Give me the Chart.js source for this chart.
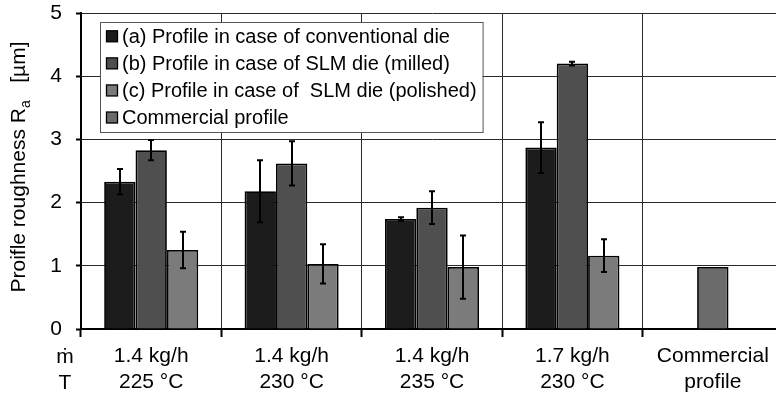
<!DOCTYPE html>
<html>
<head>
<meta charset="utf-8">
<script src="https://cdn.jsdelivr.net/npm/chart.js@4/dist/chart.umd.min.js"></script>
<style>
html,body{margin:0;padding:0;background:#fff;overflow:hidden;width:776px;height:396px;}
#wrap{width:783px;height:396px;}
</style>
</head>
<body>
<div id="wrap"><canvas id="c" width="783" height="396"></canvas></div>
<script>
// ---- data ----
const categories = [['1.4 kg/h', '225 °C'], ['1.4 kg/h', '230 °C'], ['1.4 kg/h', '235 °C'], ['1.7 kg/h', '230 °C'], ['Commercial', 'profile']];
const rowLabels = ['ṁ', 'T'];
const seriesNames = ['(a) Profile in case of conventional die', '(b) Profile in case of SLM die (milled)', '(c) Profile in case of  SLM die (polished)', 'Commercial profile'];
const conventional = [2.33, 2.18, 1.74, 2.87, null];
const conventionalErr = [0.20, 0.49, 0.03, 0.40, null];
const slmMilled = [2.83, 2.62, 1.92, 4.20, null];
const slmMilledErr = [0.16, 0.35, 0.26, 0.03, null];
const slmPolished = [1.25, 1.03, 0.98, 1.16, null];
const slmPolishedErr = [0.29, 0.31, 0.50, 0.26, null];
const commercial = [null, null, null, null, 0.98];
const commercialErr = [null, null, null, null, 0];
const yTicks = [0, 1, 2, 3, 4, 5];
const yTitleMain = 'Proifle roughness R';
const yTitleSub = 'a';
const yTitleUnit = '   [µm]';

const colors = ['#1c1c1c', '#4f4f4f', '#7b7b7b', '#6b6b6b'];
const FONT = "'Liberation Sans', Arial, 'DejaVu Sans', sans-serif";

const errs = [conventionalErr, slmMilledErr, slmPolishedErr, commercialErr];

const errorBars = {
  id: 'errorBars',
  afterDatasetsDraw(chart) {
    const ctx = chart.ctx, y = chart.scales.y;
    ctx.save();
    ctx.strokeStyle = '#000';
    ctx.lineWidth = 2;
    chart.data.datasets.forEach((ds, di) => {
      const meta = chart.getDatasetMeta(di);
      meta.data.forEach((bar, i) => {
        const v = ds.data[i], e = errs[di][i];
        if (v == null || e == null || e === 0) return;
        const x = Math.round(bar.x);
        const yt = y.getPixelForValue(v + e), yb = y.getPixelForValue(v - e);
        ctx.beginPath();
        ctx.moveTo(x, yt); ctx.lineTo(x, yb);
        ctx.moveTo(x - 3, yt); ctx.lineTo(x + 3, yt);
        ctx.moveTo(x - 3, yb); ctx.lineTo(x + 3, yb);
        ctx.stroke();
      });
    });
    ctx.restore();
  }
};

const boxLegend = {
  id: 'boxLegend',
  afterDraw(chart) {
    const ctx = chart.ctx, area = chart.chartArea;
    ctx.save();
    ctx.font = '20px ' + FONT;
    let maxW = 0;
    chart.data.datasets.forEach(ds => { maxW = Math.max(maxW, ctx.measureText(ds.label).width); });
    const left = area.left + 19, top = area.top + 9;
    const w = 22 + maxW + 6, h = 110;
    ctx.fillStyle = '#fff';
    ctx.fillRect(left, top, w, h);
    ctx.strokeStyle = '#555';
    ctx.lineWidth = 1;
    ctx.strokeRect(left + 0.5, top + 0.5, w, h);
    chart.data.datasets.forEach((ds, i) => {
      const cy = top + 14.3 + i * 27.07;
      ctx.fillStyle = ds.backgroundColor;
      ctx.fillRect(left + 6.5, cy - 5.5, 11, 11);
      ctx.strokeStyle = '#000';
      ctx.lineWidth = 1.3;
      ctx.strokeRect(left + 6.5, cy - 5.5, 11, 11);
      ctx.fillStyle = '#000';
      ctx.textBaseline = 'middle';
      ctx.textAlign = 'left';
      ctx.fillText(ds.label, left + 22, cy + 1);
    });
    ctx.restore();
  }
};

const extraText = {
  id: 'extraText',
  afterDraw(chart) {
    const ctx = chart.ctx, area = chart.chartArea;
    ctx.save();
    ctx.fillStyle = '#000';
    const big = '21px ' + FONT, small = '14px ' + FONT;
    ctx.font = big; const w1 = ctx.measureText(yTitleMain).width;
    ctx.font = small; const w2 = ctx.measureText(yTitleSub).width;
    ctx.font = big; const w3 = ctx.measureText(yTitleUnit).width;
    const total = w1 + w2 + w3;
    ctx.translate(25, 167);
    ctx.rotate(-Math.PI / 2);
    ctx.textBaseline = 'alphabetic';
    ctx.textAlign = 'left';
    let u = -total / 2;
    ctx.font = big; ctx.fillText(yTitleMain, u, 0); u += w1;
    ctx.font = small; ctx.fillText(yTitleSub, u, 5); u += w2;
    ctx.font = big; ctx.fillText(yTitleUnit, u, 0);
    ctx.restore();
    ctx.save();
    ctx.font = '21px ' + FONT;
    ctx.fillStyle = '#000';
    ctx.textAlign = 'center';
    ctx.textBaseline = 'middle';
    const x0 = area.bottom + 8 + 7;
    rowLabels.forEach((t, i) => {
      ctx.fillText(t, 65, x0 + 25.2 * (i + 0.5) + 1);
    });
    ctx.restore();
  }
};

const datasets = [conventional, slmMilled, slmPolished, commercial].map((d, i) => ({
  label: seriesNames[i],
  data: d,
  backgroundColor: colors[i],
  borderColor: '#000',
  borderWidth: 1.8,
  skipNull: true,
  categoryPercentage: 0.67,
  barPercentage: 1.0,
  maxBarThickness: 31.4
}));

new Chart(document.getElementById('c'), {
  type: 'bar',
  data: { labels: categories, datasets },
  options: {
    responsive: false,
    animation: false,
    devicePixelRatio: 1,
    layout: { padding: { left: 0, right: 0, top: 13, bottom: 0 } },
    plugins: { legend: { display: false }, tooltip: { enabled: false } },
    scales: {
      x: {
        offset: true,
        grid: { offset: true, color: '#2a2a2a', lineWidth: 1, tickLength: 8, tickColor: '#000', tickWidth: 2 },
        border: { display: true, color: '#000', width: 2 },
        ticks: { color: '#000', font: { size: 21, family: FONT }, padding: 7, maxRotation: 0, autoSkip: false },
        afterFit(scale) { scale.height = 67; scale.paddingLeft = 0; scale.paddingRight = 0; }
      },
      y: {
        min: 0, max: 5,
        afterBuildTicks(scale) { scale.ticks = yTicks.map(v => ({ value: v })); },
        grid: { color: '#2a2a2a', lineWidth: 1, tickLength: 5, tickColor: '#000', tickWidth: 2 },
        border: { display: true, color: '#000', width: 2 },
        ticks: { color: '#000', font: { size: 21, family: FONT }, padding: 14 },
        afterFit(scale) { scale.width = 81; scale.paddingTop = 0; scale.paddingBottom = 0; }
      }
    }
  },
  plugins: [errorBars, boxLegend, extraText]
});
</script>
</body>
</html>
